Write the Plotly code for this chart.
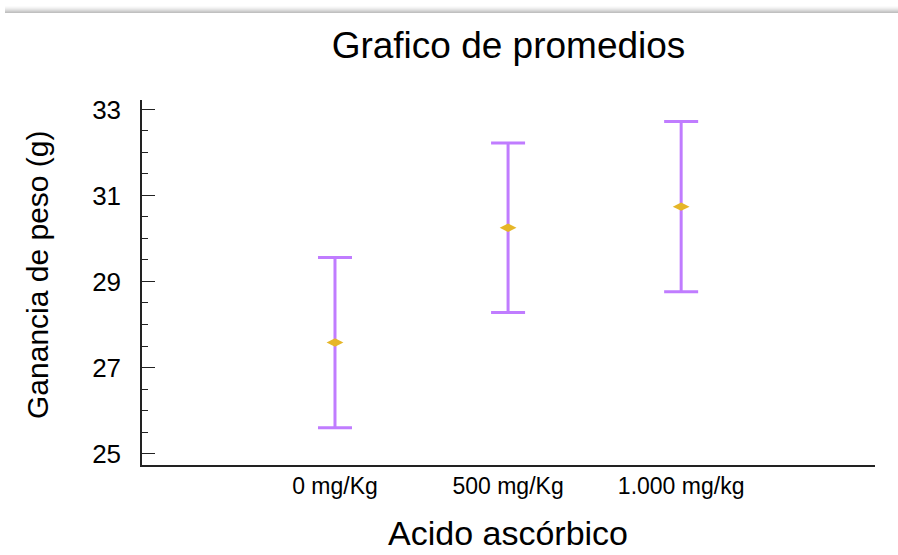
import plotly.graph_objects as go

categories = ["0 mg/Kg", "500 mg/Kg", "1.000 mg/kg"]
means = [27.58, 30.25, 30.74]
errors = [1.98, 1.97, 1.98]
y_tickvals = [25, 27, 29, 31, 33]

W, H = 898, 555
L, R, T, B = 142, 23, 100, 90
PW, PH = W - L - R, H - T - B

FONT = "Liberation Sans, Arial, Helvetica, sans-serif"

xs = list(range(len(categories)))

fig = go.Figure()
fig.add_trace(go.Scatter(
    x=xs, y=means, mode="markers",
    marker=dict(symbol="diamond-wide", size=12, color="#e6b628"),
    error_y=dict(type="data", array=errors, visible=True, color="#c07cff",
                 thickness=3, width=17),
    showlegend=False, hoverinfo="skip",
))

def py(pix):
    return (H - B - pix) / PH

def px(pix):
    return (pix - L) / PW

shapes = []
grays = ["#fbfbfb", "#f5f5f5", "#ededed", "#e3e3e3", "#d8d8d8", "#cbcbcb", "#c0c0c0"]
for i, g in enumerate(grays):
    y0 = 6 + i
    shapes.append(dict(type="rect", xref="paper", yref="paper",
                       x0=px(5), x1=px(898), y0=py(y0 + 1), y1=py(y0),
                       fillcolor=g, line=dict(width=0), layer="below"))

fig.update_layout(
    width=W, height=H,
    margin=dict(l=L, r=R, t=T, b=B, pad=0),
    paper_bgcolor="white", plot_bgcolor="white",
    font=dict(family=FONT, color="#000"),
    title=dict(text="Grafico de promedios", x=0.5, xref="paper",
               y=1 - 45 / H, yref="container", xanchor="center", yanchor="middle",
               font=dict(size=37, family=FONT, color="#000")),
    xaxis=dict(range=[-1.115, 3.12], tickvals=xs, ticktext=categories,
               showgrid=False, zeroline=False, showline=True, linecolor="#222",
               linewidth=1.5, ticks="", tickfont=dict(size=23, family=FONT, color="#000"),
               fixedrange=True),
    yaxis=dict(range=[24.733, 33.22], tickvals=y_tickvals,
               showgrid=False, zeroline=False, showline=True, linecolor="#222",
               linewidth=1.5, ticks="inside", ticklen=13, tickwidth=1.3,
               tickcolor="#222", ticklabelstandoff=14,
               tickfont=dict(size=26, family=FONT, color="#000"),
               minor=dict(dtick=0.5, ticks="inside", ticklen=6, tickwidth=1.2,
                          tickcolor="#222", showgrid=False),
               fixedrange=True),
    shapes=shapes,
    annotations=[
        dict(text="Ganancia de peso (g)", xref="paper", yref="paper",
             x=px(37), y=py(275), textangle=-90, showarrow=False,
             xanchor="center", yanchor="middle",
             font=dict(size=30, family=FONT, color="#000")),
        dict(text="Acido ascórbico", xref="paper", yref="paper",
             x=px(508), y=py(533), showarrow=False,
             xanchor="center", yanchor="middle",
             font=dict(size=34, family=FONT, color="#000")),
    ],
)

fig.write_html("out.html")
